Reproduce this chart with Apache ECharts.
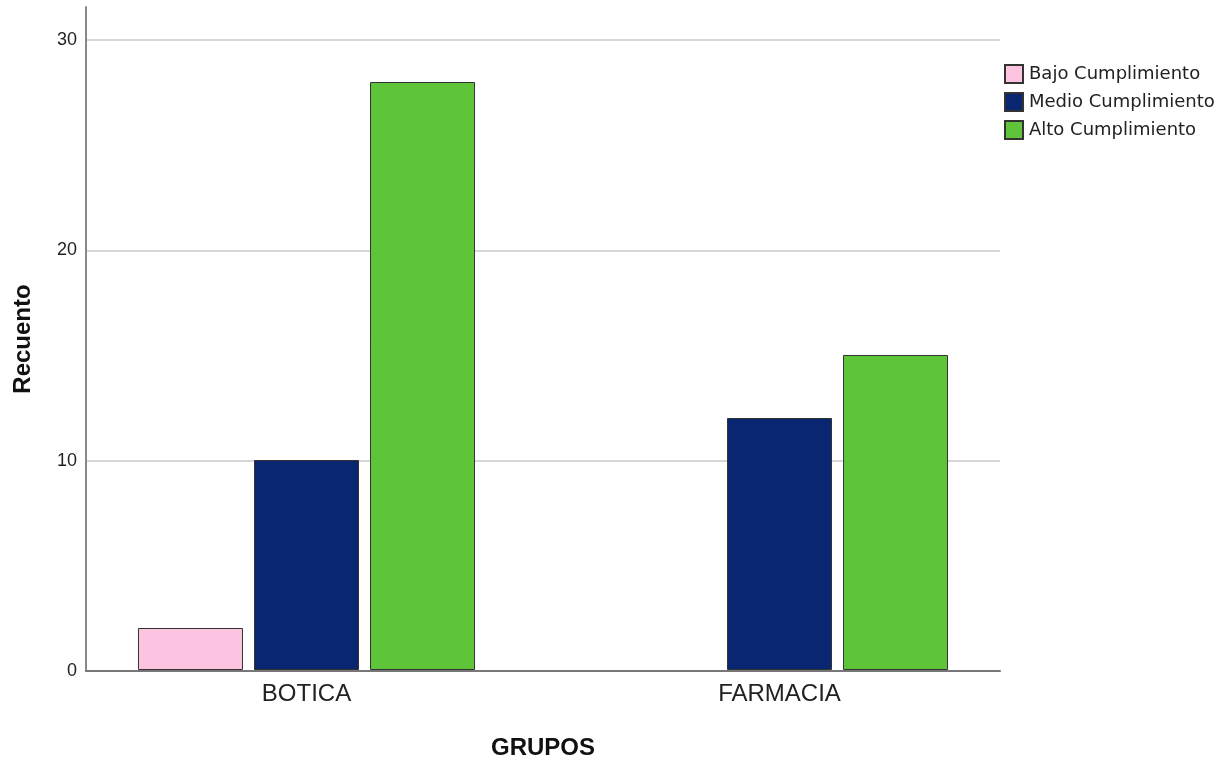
<!DOCTYPE html>
<html>
<head>
<meta charset="utf-8">
<script src="https://cdn.jsdelivr.net/npm/echarts@6/dist/echarts.min.js"></script>
<style>
html,body{margin:0;padding:0;background:#fff;}
#chart{width:1230px;height:765px;}
</style>
</head>
<body>
<div id="chart"></div>
<script>
const categories = ['BOTICA', 'FARMACIA'];
const seriesNames = ['Bajo Cumplimiento', 'Medio Cumplimiento', 'Alto Cumplimiento'];
const bajo = [2, null];
const medio = [10, 12];
const alto = [28, 15];
const yTicks = [0, 10, 20, 30];
const colors = ['#FDC4E2', '#0B2670', '#5EC43A'];

const FONT = 'Liberation Sans, Arial, sans-serif';
const chart = echarts.init(document.getElementById('chart'), null, {renderer: 'canvas'});

const values = [bajo, medio, alto];
const series = seriesNames.map((n, i) => ({
  name: n,
  type: 'bar',
  xAxisIndex: 2,
  yAxisIndex: 2,
  data: values[i],
  barWidth: 105,
  barGap: '10.5%',
  itemStyle: {color: colors[i], borderColor: '#333', borderWidth: 1},
  emphasis: {disabled: true}
}));

chart.setOption({
  animation: false,
  backgroundColor: '#fff',
  textStyle: {fontFamily: FONT},
  grid: [
    {left: 86, right: 230, top: 40, bottom: 94},
    {left: 86, right: 230, top: 7, bottom: 94},
    {left: 70, right: 214, top: 40, bottom: 94}
  ],
  legend: {
    orient: 'vertical',
    left: 1004,
    top: 64,
    padding: 0,
    itemWidth: 18,
    itemHeight: 18,
    itemGap: 8,
    icon: 'rect',
    selectedMode: false,
    textStyle: {fontSize: 18, color: '#222', fontFamily: 'DejaVu Sans, sans-serif', padding: [0, 0, 0, 1]},
    data: seriesNames
  },
  xAxis: [
    {
      gridIndex: 0, type: 'category', data: categories,
      axisLine: {show: true, lineStyle: {color: '#777', width: 2}},
      axisTick: {show: false}, axisLabel: {show: false}, splitLine: {show: false}
    },
    {
      gridIndex: 1, type: 'category', data: categories, show: false
    },
    {
      gridIndex: 2, type: 'category', data: categories,
      axisLine: {show: false}, axisTick: {show: false},
      axisLabel: {fontSize: 24, color: '#222', margin: 12, fontFamily: FONT},
      name: 'GRUPOS', nameLocation: 'middle', nameGap: 66,
      nameTextStyle: {fontSize: 24, fontWeight: 'bold', color: '#111', fontFamily: FONT}
    }
  ],
  yAxis: [
    {
      gridIndex: 0, type: 'value', min: yTicks[0], max: yTicks[yTicks.length - 1], interval: 10,
      axisLine: {show: false}, axisTick: {show: false},
      axisLabel: {fontSize: 18, color: '#222', margin: 9, fontFamily: FONT},
      splitLine: {show: true, lineStyle: {color: '#d6d6d6', width: 2}}
    },
    {
      gridIndex: 1, type: 'value', min: 0, max: 31.5,
      axisLine: {show: true, lineStyle: {color: '#888', width: 2}},
      axisTick: {show: false}, axisLabel: {show: false}, splitLine: {show: false},
      name: 'Recuento', nameLocation: 'middle', nameGap: 51,
      nameTextStyle: {fontSize: 24, fontWeight: 'bold', color: '#111', fontFamily: FONT}
    },
    {
      gridIndex: 2, type: 'value', min: yTicks[0], max: yTicks[yTicks.length - 1], interval: 10,
      show: false
    }
  ],
  series: series
});
</script>
</body>
</html>
